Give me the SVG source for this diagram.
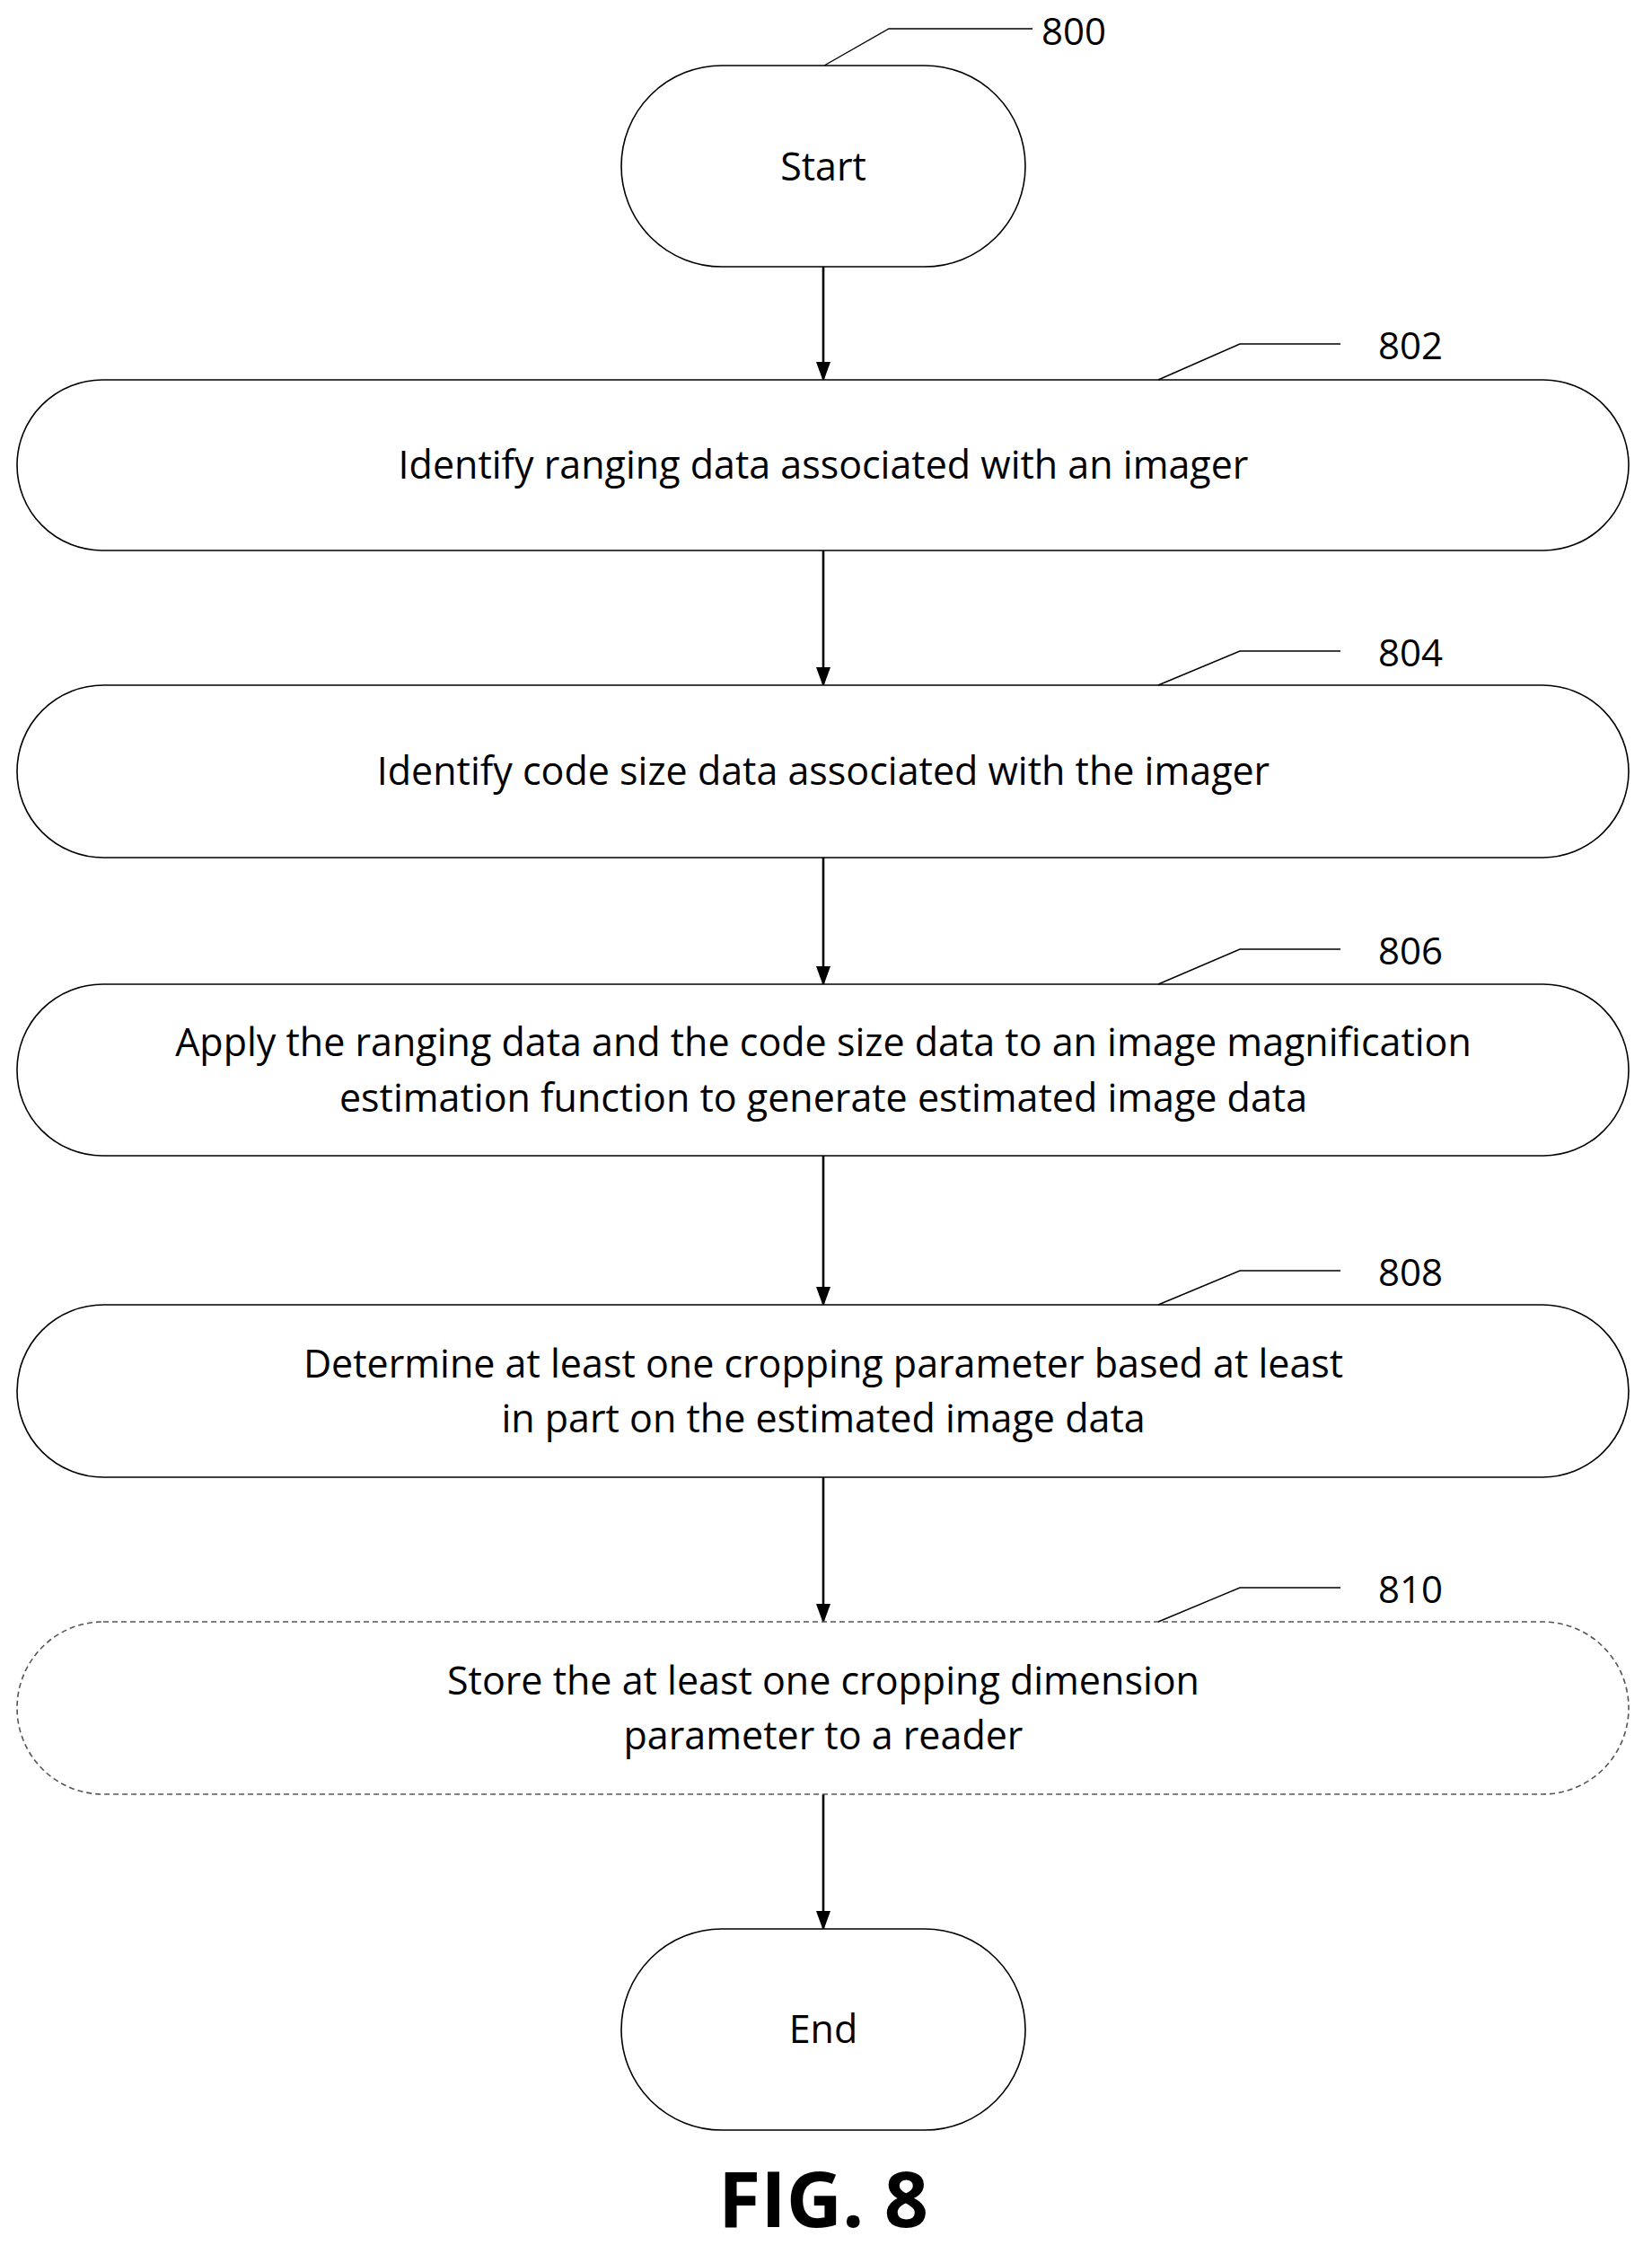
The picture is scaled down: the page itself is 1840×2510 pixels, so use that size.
<svg xmlns="http://www.w3.org/2000/svg" width="1840" height="2510" viewBox="0 0 1840 2510">
<style>
.n{fill:#fff;stroke:#000;stroke-width:1.6}
.d{stroke-dasharray:6 4;stroke:#555}
.t{font-family:"Open Sans","Liberation Sans",sans-serif;font-size:43px;text-anchor:middle;fill:#000}
.l{font-family:"Open Sans","Liberation Sans",sans-serif;font-size:42px;fill:#000}
.c{stroke:#000;stroke-width:2.6;fill:none}
.ld{stroke:#000;stroke-width:1.4;fill:none}
</style>
<defs>
<marker id="ah" markerWidth="22" markerHeight="24" refX="20" refY="12" orient="auto" markerUnits="userSpaceOnUse" viewBox="0 0 22 24"><path d="M0,4L22,12L0,20z" fill="#000"/></marker></defs>
<rect width="1840" height="2510" fill="#fff"/>
<g id="connectors">
<path class="c" d="M917,297V423" marker-end="url(#ah)"/>
<path class="c" d="M917,613V763" marker-end="url(#ah)"/>
<path class="c" d="M917,955V1096" marker-end="url(#ah)"/>
<path class="c" d="M917,1287V1453" marker-end="url(#ah)"/>
<path class="c" d="M917,1645V1806" marker-end="url(#ah)"/>
<path class="c" d="M917,1998V2148" marker-end="url(#ah)"/>
</g>
<g id="n800"><rect class="n" x="692" y="73" width="450" height="224" rx="112"/><text class="t" x="917" y="201">Start</text>
<path class="ld" d="M918,73L990,32H1150"/><text class="l" x="1160" y="50">800</text></g>
<g id="n802"><rect class="n" x="19" y="423" width="1795" height="190" rx="95"/><text class="t" x="917" y="533">Identify ranging data associated with an imager</text>
<path class="ld" d="M1290,423L1381,383H1493"/><text class="l" x="1535" y="400">802</text></g>
<g id="n804"><rect class="n" x="19" y="763" width="1795" height="192" rx="96"/><text class="t" x="917" y="874">Identify code size data associated with the imager</text>
<path class="ld" d="M1290,763L1381,725H1493"/><text class="l" x="1535" y="742">804</text></g>
<g id="n806"><rect class="n" x="19" y="1096" width="1795" height="191" rx="95"/><text class="t" x="917" y="1176">Apply the ranging data and the code size data to an image magnification</text><text class="t" x="917" y="1238">estimation function to generate estimated image data</text>
<path class="ld" d="M1290,1096L1381,1057H1493"/><text class="l" x="1535" y="1074">806</text></g>
<g id="n808"><rect class="n" x="19" y="1453" width="1795" height="192" rx="96"/><text class="t" x="917" y="1534">Determine at least one cropping parameter based at least</text><text class="t" x="917" y="1595">in part on the estimated image data</text>
<path class="ld" d="M1290,1453L1381,1415H1493"/><text class="l" x="1535" y="1432">808</text></g>
<g id="n810"><rect class="n d" x="19" y="1806" width="1795" height="192" rx="96"/><text class="t" x="917" y="1887">Store the at least one cropping dimension</text><text class="t" x="917" y="1948">parameter to a reader</text>
<path class="ld" d="M1290,1806L1381,1768H1493"/><text class="l" x="1535" y="1785">810</text></g>
<g id="nEnd"><rect class="n" x="692" y="2148" width="450" height="224" rx="112"/><text class="t" x="917" y="2275">End</text></g>
<text x="917" y="2480" font-family="Open Sans,Liberation Sans,sans-serif" font-weight="bold" font-size="86" text-anchor="middle">FIG. 8</text>
</svg>
